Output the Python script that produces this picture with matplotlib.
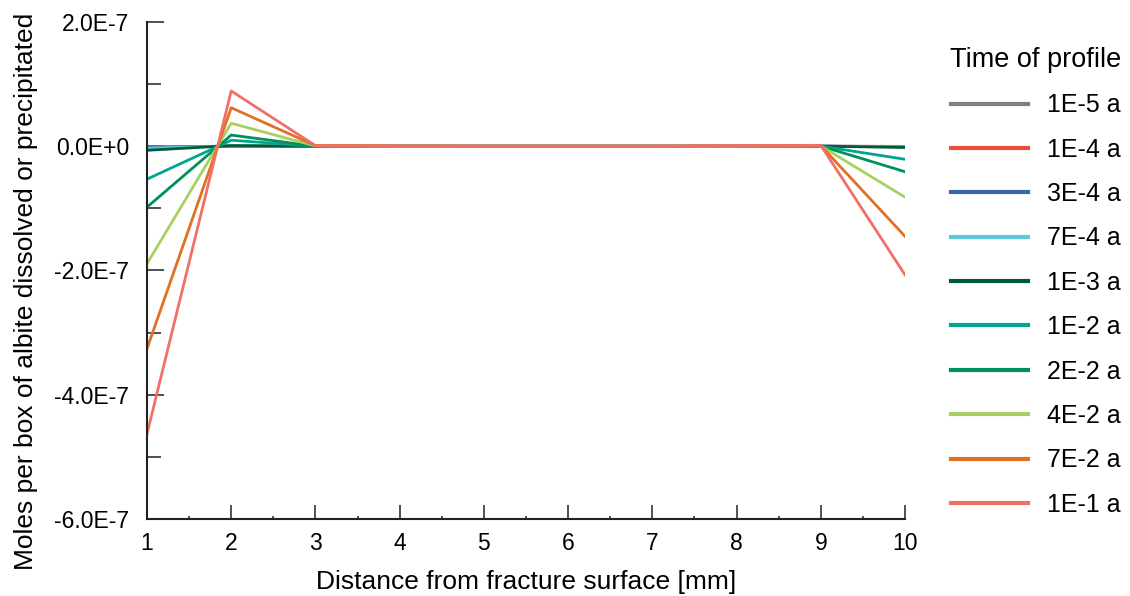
import matplotlib
matplotlib.use("Agg")
import matplotlib.pyplot as plt
import numpy as np
from matplotlib.ticker import MultipleLocator, FuncFormatter

plt.rcParams['font.family'] = ['Liberation Sans', 'DejaVu Sans']

distance = np.arange(1, 11)
labels = ["1E-5 a", "1E-4 a", "3E-4 a", "7E-4 a", "1E-3 a",
          "1E-2 a", "2E-2 a", "4E-2 a", "7E-2 a", "1E-1 a"]
colors = ["#808080", "#e8503a", "#3a66b0", "#5cc8dc", "#005a3a",
          "#00a690", "#00905a", "#a8d060", "#e07022", "#f07068"]

# moles per box, one profile per time
p_1e5 = [-1.0e-9, 0.1e-9, 0, 0, 0, 0, 0, 0, 0.1e-9, -0.2e-9]
p_1e4 = [-1.5e-9, 0.2e-9, 0, 0, 0, 0, 0, 0, 0.1e-9, -0.3e-9]
p_3e4 = [-2.0e-9, 0.3e-9, 0, 0, 0, 0, 0, 0, 0.1e-9, -0.5e-9]
p_7e4 = [-3.0e-9, 0.5e-9, 0, 0, 0, 0, 0, 0, 0.1e-9, -1.0e-9]
p_1e3 = [-6.5e-9, 1.0e-9, 0, 0, 0, 0, 0, 0, 0.2e-9, -2.0e-9]
p_1e2 = [-5.3e-8, 0.97e-8, 0, 0, 0, 0, 0, 0, 0.2e-9, -2.1e-8]
p_2e2 = [-9.8e-8, 1.8e-8, 0, 0, 0, 0, 0, 0, 0.3e-9, -4.1e-8]
p_4e2 = [-1.89e-7, 3.7e-8, 0.5e-9, 0, 0, 0, 0, 0, 0.5e-9, -8.2e-8]
p_7e2 = [-3.26e-7, 6.2e-8, 1.0e-9, 0.5e-9, 0, 0, 0, 0.5e-9, 1.0e-9, -1.45e-7]
p_1e1 = [-4.63e-7, 8.9e-8, 1.0e-9, 0.5e-9, 0.5e-9, 0.5e-9, 0.5e-9, 1.0e-9, 1.5e-9, -2.07e-7]
profiles = [p_1e5, p_1e4, p_3e4, p_7e4, p_1e3, p_1e2, p_2e2, p_4e2, p_7e2, p_1e1]

fig = plt.figure(figsize=(11.3, 5.96), dpi=100)
ax = fig.add_axes([147 / 1130, 77 / 596, 758 / 1130, 497 / 596])

for prof, lab, col in zip(profiles, labels, colors):
    ax.plot(distance, prof, color=col, lw=2.0, label=lab)

ax.set_xlim(1, 10)
ax.set_ylim(-6e-7, 2e-7)
ax.xaxis.set_major_locator(MultipleLocator(1))
ax.xaxis.set_minor_locator(MultipleLocator(0.5))
ax.yaxis.set_major_locator(MultipleLocator(2e-7))
ax.yaxis.set_minor_locator(MultipleLocator(1e-7))


def sci(v, pos):
    if abs(v) < 1e-15:
        return "0.0E+0"
    exp = int(np.floor(np.log10(abs(v))))
    return f"{v / 10**exp:.1f}E{exp}"


ax.yaxis.set_major_formatter(FuncFormatter(sci))
ax.tick_params(which='both', direction='in', labelsize=16.5, color='#333333')
ax.tick_params(which='major', length=12, width=1.2)
ax.tick_params(which='minor', length=10, width=1.2)
ax.tick_params(axis='x', which='major', length=10, pad=9)
ax.tick_params(axis='x', which='minor', length=2)
ax.tick_params(axis='y', which='major', pad=13)
ax.spines['top'].set_visible(False)
ax.spines['right'].set_visible(False)
ax.spines['left'].set_color('#222222')
ax.spines['bottom'].set_color('#222222')
ax.spines['left'].set_linewidth(1.5)
ax.spines['bottom'].set_linewidth(1.5)

ax.set_xlabel("Distance from fracture surface [mm]", fontsize=19, labelpad=11)
ax.set_ylabel("Moles per box of albite dissolved or precipitated", fontsize=19)
ax.yaxis.set_label_coords(-0.144, 0.459)

leg = ax.legend(title="Time of profile", loc='upper left', bbox_to_anchor=(1.030, 0.995),
                frameon=False, fontsize=18, title_fontsize=19.5, handlelength=3.05,
                labelspacing=0.815, handletextpad=0.76, markerfirst=True)
for line in leg.get_lines():
    line.set_linewidth(3)

fig.savefig("out.png", dpi=100)
